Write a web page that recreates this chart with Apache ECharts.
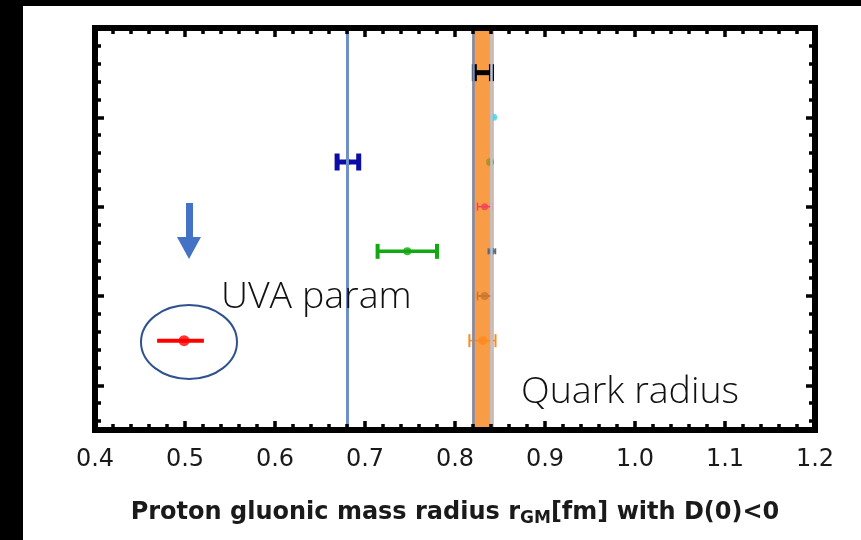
<!DOCTYPE html>
<html>
<head>
<meta charset="utf-8">
<script src="https://cdn.jsdelivr.net/npm/echarts@6/dist/echarts.min.js"></script>
<style>
  html, body { margin: 0; padding: 0; background: #ffffff; }
  #chart { width: 861px; height: 540px; }
</style>
</head>
<body>
<div id="chart"></div>
<script>
// Axis ranges and tick labels
const xRange = [0.4, 1.2];
const xTickLabels = ['0.4', '0.5', '0.6', '0.7', '0.8', '0.9', '1.0', '1.1', '1.2'];
const yRange = [0, 9];
const yMajorTicks = [1, 3, 5, 7, 9];
const yMinorTicks = [0.2, 0.6, 1.4, 1.8, 2.2, 2.6, 3.4, 3.8, 4.2, 4.6, 5.4, 5.8, 6.2, 6.6, 7.4, 7.8, 8.2, 8.6];

// Extracted gluonic mass radii (fm): row, central value, lower and upper errors
const rowPos  = [8,      7,      6,      6,      5,      4,      4,      3,      2,      2];
const radius  = [0.831,  0.843,  0.681,  0.839,  0.833,  0.747,  0.841,  0.833,  0.831,  0.499];
const errLow  = [0.0095, 0.002,  0.012,  0.002,  0.008,  0.033,  0.004,  0.008,  0.015,  0.030];
const errHigh = [0.0095, 0.002,  0.012,  0.002,  0.008,  0.033,  0.004,  0.008,  0.014,  0.022];

// Reference radii
const uvaRadius = [0.681];
const quarkBand = [0.819, 0.843];

// Per-measurement drawing style
const markStyle = [
  { color: '#000000', dot: 0,  line: 5,   capH: 17, capW: 5 },
  { color: '#3fd2e4', dot: 7,  line: 1,   capH: 0,  capW: 0 },
  { color: '#0c0ca6', dot: 6,  line: 5,   capH: 17, capW: 5 },
  { color: '#a48c22', dot: 8,  line: 1,   capH: 0,  capW: 0 },
  { color: '#f4405e', dot: 7,  line: 1.5, capH: 8,  capW: 1.5 },
  { color: '#12a812', dot: 8,  line: 3.5, capH: 15, capW: 4 },
  { color: '#5c6a78', dot: 7,  line: 1.5, capH: 6,  capW: 1.5 },
  { color: '#c8772e', dot: 8,  line: 2,   capH: 9,  capW: 1.5 },
  { color: '#ff8a1c', dot: 9,  line: 1.5, capH: 13, capW: 2 },
  { color: '#ff0000', dot: 11, line: 4,   capH: 0,  capW: 0 }
];

const errData = radius.map((r, i) => [r, r - errLow[i], r + errHigh[i], rowPos[i]]);
const pointData = radius.map((r, i) => ({
  value: [r, rowPos[i]],
  symbolSize: markStyle[i].dot,
  itemStyle: { color: markStyle[i].color }
}));

const frameLine = { show: true, onZero: false, lineStyle: { color: '#000', width: 6, cap: 'square' } };
const labelFont = { fontFamily: 'DejaVu Sans', fontSize: 24, color: '#1a1a1a' };

function xAxisDef(pos, withLabels) {
  return {
    type: 'value', position: pos, min: xRange[0], max: xRange[1], interval: 0.1, z: 10,
    axisLine: frameLine,
    axisTick: { show: true, inside: true, length: 9, lineStyle: { color: '#000', width: 3.5 } },
    minorTick: { show: true, splitNumber: 5, length: 6, lineStyle: { color: '#000', width: 3.5 } },
    splitLine: { show: false }, minorSplitLine: { show: false },
    axisLabel: withLabels ? Object.assign({
      show: true, margin: 18,
      formatter: v => xTickLabels[Math.round((v - xRange[0]) * 10)]
    }, labelFont) : { show: false }
  };
}

function yAxisDef(pos, ticks, len, line) {
  return {
    type: 'value', position: pos, min: yRange[0], max: yRange[1], z: 10,
    axisLine: line ? frameLine : { show: false, onZero: false },
    axisTick: { show: true, inside: true, length: len, customValues: ticks,
                lineStyle: { color: '#000', width: 3.5 } },
    axisLabel: { show: false },
    splitLine: { show: false }
  };
}

const xMain = xAxisDef('bottom', true);
xMain.name = 'Proton gluonic mass radius r{sub|GM}[fm] with D(0)<0';
xMain.nameLocation = 'middle';
xMain.nameGap = 68;
xMain.nameTextStyle = {
  fontFamily: 'DejaVu Sans', fontWeight: 'bold', fontSize: 24, color: '#1a1a1a',
  rich: { sub: { fontFamily: 'DejaVu Sans', fontWeight: 'bold', fontSize: 17, color: '#1a1a1a', padding: [12, 0, 0, 0] } }
};

const chart = echarts.init(document.getElementById('chart'), null, { renderer: 'canvas' });
chart.setOption({
  animation: false,
  backgroundColor: '#ffffff',
  grid: { left: 95, right: 46, top: 28, bottom: 110, containLabel: false, outerBoundsMode: 'none' },
  xAxis: [xMain, xAxisDef('top', false)],
  yAxis: [
    yAxisDef('left', yMajorTicks, 9, true),
    yAxisDef('left', yMinorTicks, 6, false),
    yAxisDef('right', yMajorTicks, 9, true),
    yAxisDef('right', yMinorTicks, 6, false)
  ],
  series: [
    {
      // quark radius band
      type: 'scatter', data: [], z: 1, silent: true,
      markArea: {
        silent: true,
        itemStyle: { color: '#f89c46' },
        data: [[{ xAxis: quarkBand[0] }, { xAxis: quarkBand[1] }]]
      },
      markLine: {
        silent: true, symbol: 'none', label: { show: false },
        data: [
          { xAxis: quarkBand[0], lineStyle: { color: '#7a8cb6', width: 2.5, type: 'solid' } },
          { xAxis: quarkBand[1], lineStyle: { color: '#b8c4de', width: 2.5, type: 'solid' } }
        ]
      }
    },
    {
      type: 'custom', z: 2, silent: true,
      encode: { x: [1, 2], y: 3 },
      data: errData,
      renderItem(params, api) {
        const s = markStyle[params.dataIndex];
        const y = api.value(3);
        const a = api.coord([api.value(1), y]);
        const b = api.coord([api.value(2), y]);
        const children = [{
          type: 'line',
          shape: { x1: a[0], y1: a[1], x2: b[0], y2: b[1] },
          style: { stroke: s.color, lineWidth: s.line }
        }];
        if (s.capH) {
          [a, b].forEach(p => children.push({
            type: 'line',
            shape: { x1: p[0], y1: p[1] - s.capH / 2, x2: p[0], y2: p[1] + s.capH / 2 },
            style: { stroke: s.color, lineWidth: s.capW }
          }));
        }
        return { type: 'group', children };
      }
    },
    {
      type: 'scatter', z: 3, silent: true, symbol: 'circle',
      data: pointData
    },
    {
      // UVA parametrisation radius
      type: 'scatter', data: [], z: 4, silent: true,
      markLine: {
        silent: true, symbol: 'none', label: { show: false },
        lineStyle: { color: '#6f8fc6', width: 3, type: 'solid' },
        data: [{ xAxis: uvaRadius[0] }]
      }
    }
  ],
  graphic: [
    { type: 'rect', z: 100, shape: { x: 0, y: 0, width: 861, height: 6 }, style: { fill: '#000' } },
    { type: 'rect', z: 100, shape: { x: 0, y: 0, width: 23, height: 540 }, style: { fill: '#000' } },
    { type: 'rect', z: 50, shape: { x: 186, y: 203, width: 7, height: 35 }, style: { fill: '#4472c4' } },
    { type: 'polygon', z: 50, shape: { points: [[177, 237], [201, 237], [189, 259]] }, style: { fill: '#4472c4' } },
    { type: 'ellipse', z: 50, shape: { cx: 189, cy: 342, rx: 48, ry: 37 },
      style: { fill: null, stroke: '#2f528f', lineWidth: 2 } },
    { type: 'text', z: 50, x: 221, y: 297,
      style: { text: 'UVA param', font: '300 37.5px "Open Sans"', fill: '#111', verticalAlign: 'middle' } },
    { type: 'text', z: 50, x: 521, y: 392,
      style: { text: 'Quark radius', font: '300 37.5px "Open Sans"', fill: '#111', verticalAlign: 'middle' } }
  ]
});
</script>
</body>
</html>
